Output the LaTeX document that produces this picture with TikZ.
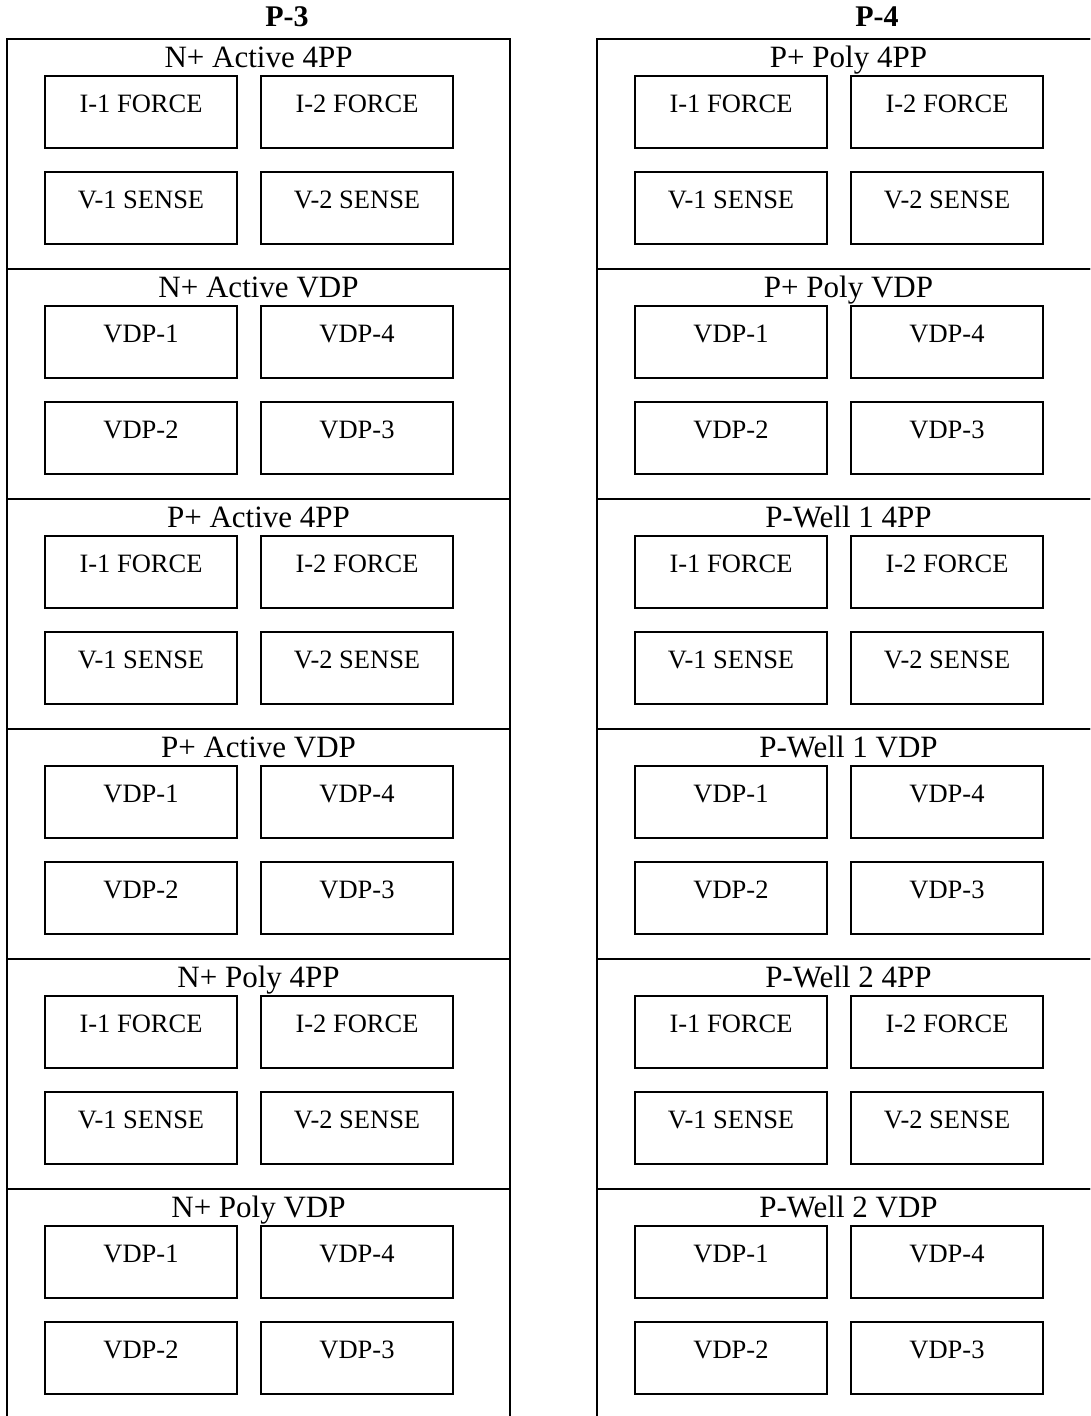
\documentclass[tikz,border=0pt]{standalone}
\usepackage{fontspec}
\setmainfont{Liberation Serif}
\usetikzlibrary{positioning, calc}

\begin{document}
\begin{tikzpicture}[
    x=1pt, y=-1pt,
    title/.style={
        font=\fontsize{30}{36}\selectfont\bfseries,
        anchor=base,
        inner sep=0pt
    },
    section/.style={
        draw=black,
        line width=1.8pt,
        minimum width=503pt,
        minimum height=230pt,
        inner sep=0pt,
        outer sep=0pt
    },
    head/.style={
        font=\fontsize{31}{36}\selectfont,
        anchor=base,
        inner sep=0pt
    },
    pad/.style={
        draw=black,
        line width=1.6pt,
        minimum width=192pt,
        minimum height=72pt,
        text height=0pt,
        text depth=0pt,
        inner sep=0pt,
        outer sep=0pt,
        font=\fontsize{26.5}{30}\selectfont
    },
    frame/.style={draw=black, line width=2.6pt},
]

\useasboundingbox (0,0) rectangle (1090,1416);
\clip (0,0) rectangle (1090,1416);

% one column per probe card, two test structures per material
\foreach \col/\lft/\ttl/\names in {p3/7/P-3/{N+ Active,P+ Active,N+ Poly},
                                   p4/597/P-4/{P+ Poly,P-Well 1,P-Well 2}} {
    \pgfmathsetmacro{\tx}{\lft+280}
    \node[title] (\col-title) at (\tx,27) {\ttl};
    \foreach \name [count=\i from 0] in \names {
        \foreach \kind/\pa/\pb/\pc/\pd [count=\j from 0] in
            {4PP/I-1 FORCE/I-2 FORCE/V-1 SENSE/V-2 SENSE,
             VDP/VDP-1/VDP-4/VDP-2/VDP-3} {
            \pgfmathtruncatemacro{\k}{2*\i+\j}
            \pgfmathsetmacro{\sx}{\lft+251.5}
            \pgfmathsetmacro{\sy}{39+230*\k+115}
            \node[section] (\col-\k) at (\sx,\sy) {};
            \node[head] (\col-\k-head) at ($(\col-\k.north)+(0,28)$) {\name\ \kind};
            \node[pad] (\col-\k-a) at ($(\col-\k.north west)+(134,73)$) {\pa};
            \node[pad, right=24pt of \col-\k-a] (\col-\k-b) {\pb};
            \node[pad, below=24pt of \col-\k-a] (\col-\k-c) {\pc};
            \node[pad, below=24pt of \col-\k-b] (\col-\k-d) {\pd};
        }
    }
    \draw[frame] (\col-0.north west) rectangle (\col-5.south east);
}

\end{tikzpicture}
\end{document}
